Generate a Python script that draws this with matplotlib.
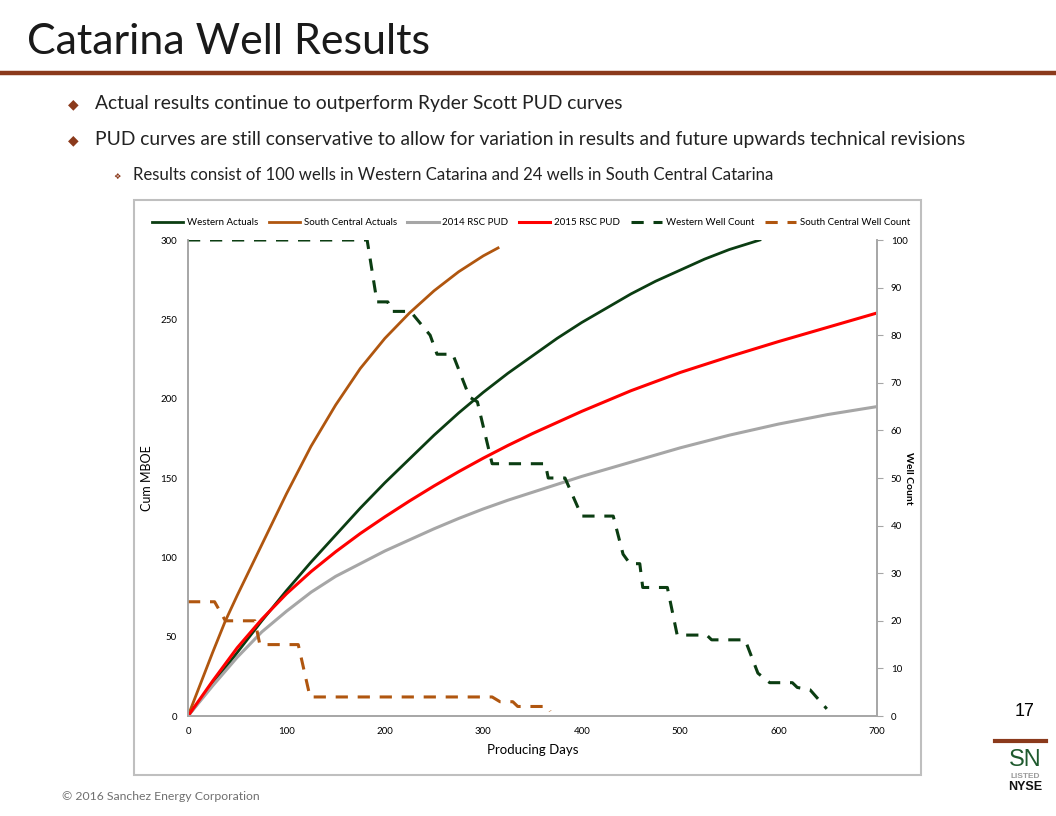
import matplotlib
matplotlib.use("Agg")
import matplotlib.pyplot as plt
from matplotlib.patches import Rectangle
from matplotlib.lines import Line2D

# ---------------- data ----------------
western_days = [0, 25, 50, 75, 100, 125, 150, 175, 200, 225, 250, 275, 300, 325, 350,
                375, 400, 425, 450, 475, 500, 525, 550, 581]
western_mboe = [0, 20, 40, 60, 79, 97, 114, 131, 147, 162, 177, 191, 204, 216, 227,
                238, 248, 257, 266, 274, 281, 288, 294, 300]

south_days = [0, 25, 38, 50, 75, 100, 125, 150, 175, 200, 225, 250, 275, 300, 315]
south_mboe = [0, 40, 60, 76, 108, 140, 170, 196, 219, 238, 254, 268, 280, 290, 295]

pud14_days = [0, 25, 50, 75, 100, 125, 150, 175, 200, 225, 250, 275, 300, 325, 350,
              400, 450, 500, 550, 600, 650, 700]
pud14_mboe = [0, 19, 37, 53, 66, 78, 88, 96, 104, 111, 118, 124.5, 130.5, 136, 141,
              151, 160, 169, 177, 184, 190, 195]

pud15_days = [0, 25, 50, 75, 100, 125, 150, 175, 200, 225, 250, 275, 300, 325, 350,
              375, 400, 450, 500, 550, 600, 650, 700]
pud15_mboe = [0, 22, 43, 61, 77, 91, 103.5, 115, 125.5, 135.5, 145, 154, 162.5, 170.5,
              178, 185, 192, 205, 216.5, 226.5, 236, 245, 254]

wwc_days = [0, 182, 192, 203, 207, 226, 246, 253, 269, 286, 294, 309, 363, 366, 383,
            400, 432, 442, 449, 459, 462, 487, 497, 527, 532, 566, 579, 591, 614, 619,
            632, 649]
wwc_count = [100, 100, 87, 87, 85, 85, 80, 76, 76, 67, 66, 53, 53, 50, 50,
             42, 42, 34, 32, 32, 27, 27, 17, 17, 16, 16, 9, 7, 7, 6,
             5.5, 1.5]

scwc_days = [0, 27, 38, 68, 73, 112, 124, 309, 317, 330, 335, 365, 368]
scwc_count = [24, 24, 20, 20, 15, 15, 4, 4, 3, 3, 2, 2, 1]

x_ticks = [0, 100, 200, 300, 400, 500, 600, 700]
y_ticks = [0, 50, 100, 150, 200, 250, 300]
y2_ticks = [0, 10, 20, 30, 40, 50, 60, 70, 80, 90, 100]

bullets = [
    "Actual results continue to outperform Ryder Scott PUD curves",
    "PUD curves are still conservative to allow for variation in results and future upwards technical revisions",
]
sub_bullet = "Results consist of 100 wells in Western Catarina and 24 wells in South Central Catarina"

# ---------------- style ----------------
C_WEST = "#0b3d12"
C_SOUTH = "#b0560f"
C_GREY = "#a6a6a6"
C_RED = "#ff0000"
C_RULE = "#8b3a1c"
FONT = ["Lato", "DejaVu Sans"]

plt.rcParams["font.family"] = FONT

W, H = 1056, 816
fig = plt.figure(figsize=(W / 100, H / 100), dpi=100)


def fx(px):
    return px / W


def fy(py):
    return 1 - py / H


# title
fig.text(fx(27), fy(42), "Catarina Well Results", fontsize=31,
         ha="left", va="center", color="#1a1a1a")
fig.add_artist(Line2D([0, 1], [fy(73), fy(73)], color=C_RULE, lw=3.2,
                      transform=fig.transFigure))

# bullets
for txt, py in zip(bullets, [104, 140]):
    fig.text(fx(73), fy(py), "\u25C6", fontsize=10, color=C_RULE, ha="center",
             va="center", family="DejaVu Sans")
    fig.text(fx(95), fy(py), txt, fontsize=13.9, ha="left", va="center",
             color="#222222")
fig.text(fx(117), fy(176), "\u2756", fontsize=6, color=C_RULE, ha="center",
         va="center", family="DejaVu Sans")
fig.text(fx(133), fy(175), sub_bullet, fontsize=12.1, ha="left", va="center",
         color="#222222")

# chart border
fig.add_artist(Rectangle((fx(134), fy(775)), fx(921) - fx(134), fy(200) - fy(775),
                         transform=fig.transFigure, fill=False,
                         edgecolor="#bfbfbf", lw=1.5))

ax = fig.add_axes([fx(188), fy(716), fx(877) - fx(188), fy(240) - fy(716)])
ax2 = ax.twinx()

l1, = ax.plot(western_days, western_mboe, color=C_WEST, lw=2, label="Western Actuals")
l2, = ax.plot(south_days, south_mboe, color=C_SOUTH, lw=2, label="South Central Actuals")
l3, = ax.plot(pud14_days, pud14_mboe, color=C_GREY, lw=2.2, label="2014 RSC PUD")
l4, = ax.plot(pud15_days, pud15_mboe, color=C_RED, lw=2.2, label="2015 RSC PUD")
l5, = ax2.plot(wwc_days, wwc_count, color=C_WEST, lw=2.2, ls=(0, (4, 3.2)),
               label="Western Well Count")
l6, = ax2.plot(scwc_days, scwc_count, color=C_SOUTH, lw=2.2, ls=(0, (4, 3.2)),
               label="South Central Well Count")

ax.set_xlim(0, 700)
ax.set_ylim(0, 300)
ax2.set_ylim(0, 100)
ax.set_xticks(x_ticks)
ax.set_yticks(y_ticks)
ax2.set_yticks(y2_ticks)
for a in (ax, ax2):
    for s in a.spines.values():
        s.set_color("#a6a6a6")
        s.set_linewidth(1.2)
    a.spines["top"].set_visible(False)
ax.tick_params(axis="y", length=0, labelsize=7, pad=8)
ax.tick_params(axis="x", length=0, labelsize=7, pad=8)
ax2.tick_params(axis="y", length=4, color="#a6a6a6", labelsize=7, pad=6)
ax.set_xlabel("Producing Days", fontsize=9.5, labelpad=6)
ax.set_ylabel("Cum MBOE", fontsize=9, labelpad=5)
ax2.set_ylabel("Well Count", fontsize=7.5, rotation=-90, labelpad=4,
               fontweight="bold")

fig.legend(handles=[l1, l2, l3, l4, l5, l6], loc="center",
           bbox_to_anchor=(fx(531), fy(223)), ncol=6, frameon=False,
           fontsize=7, handlelength=3.2, handletextpad=0.4, columnspacing=1.1)

# footer / page elements
fig.text(fx(1025), fy(712), "17", fontsize=13, ha="center", va="center",
         family=["Liberation Sans", "DejaVu Sans"])
fig.add_artist(Line2D([fx(995), fx(1046)], [fy(741), fy(741)], color=C_RULE, lw=3,
                      transform=fig.transFigure))
fig.text(fx(1025), fy(760), "SN", fontsize=17, ha="center", va="center",
         color="#1f5a2e", family=["Liberation Sans", "DejaVu Sans"])
fig.text(fx(1025), fy(776), "LISTED", fontsize=6, ha="center", va="center",
         color="#9a9a9a", fontweight="bold", family=["Liberation Sans", "DejaVu Sans"])
fig.text(fx(1025), fy(787), "NYSE", fontsize=9, ha="center", va="center",
         color="#111111", fontweight="bold", family=["Liberation Sans", "DejaVu Sans"])
fig.text(fx(62), fy(797), "\u00a9 2016 Sanchez Energy Corporation", fontsize=8.8,
         ha="left", va="center", color="#707070")

fig.savefig("out.png", dpi=100)
